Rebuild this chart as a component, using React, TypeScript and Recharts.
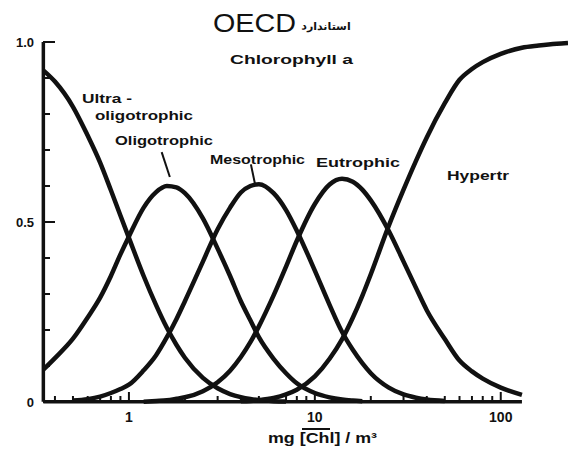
import { LineChart, Line, XAxis, YAxis, ReferenceLine } from "recharts";

// chlorophyll a, mg/m3 (log axis)
const CHL = [
  0.345, 0.4, 0.5, 0.6, 0.7, 0.8, 0.9, 1, 1.2, 1.4, 1.6, 1.8, 2, 2.5, 3, 3.5, 4, 4.5, 5, 6, 7, 8,
  10, 12, 14, 16, 18, 20, 25, 30, 35, 40, 50, 60, 70, 80, 100, 130, 160, 200, 230,
];

// probability of each trophic class
const ULTRA = [
  0.922, 0.89, 0.82, 0.74, 0.665, 0.588, 0.518, 0.456, 0.35, 0.269, 0.206, 0.159, 0.123, 0.067,
  0.038, 0.022, 0.0135, 0.0085, 0.0054, 0.0024, 0.0011, null, null, null, null, null, null, null,
  null, null, null, null, null, null, null, null, null, null, null, null, null,
];
const OLIGO = [
  0.089, 0.122, 0.176, 0.235, 0.29, 0.35, 0.41, 0.46, 0.54, 0.583, 0.6, 0.596, 0.58, 0.51, 0.426,
  0.35, 0.28, 0.227, 0.18, 0.12, 0.08, 0.052, 0.025, 0.013, 0.007, 0.004, 0.002, null, null, null,
  null, null, null, null, null, null, null, null, null, null, null,
];
const MESO = [
  null, null, 0.004, 0.008, 0.015, 0.025, 0.036, 0.048, 0.088, 0.13, 0.18, 0.23, 0.28, 0.39, 0.48,
  0.54, 0.582, 0.6, 0.605, 0.58, 0.533, 0.476, 0.365, 0.27, 0.195, 0.145, 0.108, 0.08, 0.04, 0.021,
  0.012, 0.007, 0.003, null, null, null, null, null, null, null, null,
];
const EUTRO = [
  null, null, null, null, null, null, null, null, 0.001, 0.003, 0.005, 0.009, 0.013, 0.03, 0.055,
  0.087, 0.125, 0.166, 0.21, 0.296, 0.376, 0.448, 0.55, 0.604, 0.62, 0.612, 0.59, 0.56, 0.475, 0.39,
  0.317, 0.255, 0.175, 0.115, 0.085, 0.065, 0.04, 0.02, null, null, null,
];
const HYPER = [
  null, null, null, null, null, null, null, null, null, null, null, null, null, null, null, null,
  0.002, 0.003, 0.005, 0.011, 0.021, 0.034, 0.071, 0.12, 0.174, 0.234, 0.295, 0.355, 0.49, 0.59,
  0.67, 0.735, 0.83, 0.895, 0.925, 0.944, 0.967, 0.984, 0.99, 0.995, 0.997,
];

const X_TICKS = [
  0.4, 0.5, 0.6, 0.7, 0.8, 0.9, 1, 2, 3, 4, 5, 6, 7, 8, 9, 10, 20, 30, 40, 50, 60, 70, 80, 90, 100,
];
const X_LABELS: Record<number, string> = { 1: "1", 10: "10", 100: "100" };
const Y_TICKS = [0, 0.1, 0.2, 0.3, 0.4, 0.5, 0.6, 0.7, 0.8, 0.9, 1];
const Y_LABELS: Record<number, string> = { 0: "0", 0.5: "0.5", 1: "1.0" };

const data = CHL.map((chl, i) => ({
  chl,
  ultra: ULTRA[i],
  oligo: OLIGO[i],
  meso: MESO[i],
  eutro: EUTRO[i],
  hyper: HYPER[i],
}));

const FONT = "'Liberation Sans', Arial, sans-serif";
const INK = "#111";

function XTick(props: any) {
  const { x, y, payload } = props;
  const label = X_LABELS[payload.value];
  return (
    <g>
      <line x1={x} x2={x} y1={y} y2={y - (label ? 10 : 6)} stroke={INK} strokeWidth={2} />
      {label && (
        <text x={x} y={y + 20} textAnchor="middle" fontFamily={FONT} fontWeight={700} fontSize={14} fill={INK}>
          {label}
        </text>
      )}
    </g>
  );
}

function YTick(props: any) {
  const { x, y, payload } = props;
  const label = Y_LABELS[payload.value];
  return (
    <g>
      <line x1={x} x2={x + (label ? 12 : 7)} y1={y} y2={y} stroke={INK} strokeWidth={2} />
      {label && (
        <text x={x - 9} y={y + 5} textAnchor="end" fontFamily={FONT} fontWeight={700} fontSize={13} fill={INK}>
          {label}
        </text>
      )}
    </g>
  );
}

const series = ["ultra", "oligo", "meso", "eutro", "hyper"];

export default function App() {
  return (
    <div style={{ position: "absolute", left: 0, top: 0, width: 570, height: 460, background: "#fff" }}>
      <LineChart width={570} height={460} data={data} margin={{ top: 42, right: 2, left: 0, bottom: 0 }}>
        <XAxis
          dataKey="chl"
          type="number"
          scale="log"
          domain={[0.345, 230]}
          allowDataOverflow
          ticks={X_TICKS}
          interval={0}
          axisLine={false}
          tickLine={false}
          tickSize={0}
          tickMargin={0}
          height={58}
          tick={<XTick />}
        />
        <YAxis
          type="number"
          domain={[0, 1]}
          ticks={Y_TICKS}
          interval={0}
          width={43}
          axisLine={false}
          tickLine={false}
          tickSize={0}
          tickMargin={0}
          tick={<YTick />}
        />
        {/* axis lines; the x axis stops a little past 100 */}
        <ReferenceLine
          segment={[{ x: 0.3465, y: 0.001 }, { x: 130, y: 0.001 }]}
          stroke={INK}
          strokeWidth={3.5}
          ifOverflow="visible"
        />
        <ReferenceLine
          segment={[{ x: 0.3465, y: 0.001 }, { x: 0.3465, y: 1 }]}
          stroke={INK}
          strokeWidth={3.5}
          ifOverflow="visible"
        />
        {/* leader lines from the labels to the peaks */}
        <ReferenceLine
          segment={[{ x: 1.5, y: 0.694 }, { x: 1.66, y: 0.625 }]}
          stroke={INK}
          strokeWidth={2}
        />
        <ReferenceLine
          segment={[{ x: 4.53, y: 0.66 }, { x: 4.76, y: 0.607 }]}
          stroke={INK}
          strokeWidth={2}
        />
        {series.map((key) => (
          <Line
            key={key}
            dataKey={key}
            type="monotone"
            stroke={INK}
            strokeWidth={4.5}
            dot={false}
            activeDot={false}
            isAnimationActive={false}
          />
        ))}
      </LineChart>
      <svg
        width={570}
        height={460}
        style={{ position: "absolute", left: 0, top: 0, pointerEvents: "none" }}
        fontFamily={FONT}
        fill={INK}
      >
        <text x={213} y={32} fontSize={25} textLength={83} lengthAdjust="spacingAndGlyphs">
          OECD
        </text>
        <text x={326} y={30} fontSize={11} fontWeight={700} textAnchor="middle" fontFamily="'DejaVu Sans', sans-serif">
          استاندارد
        </text>
        <text x={230} y={64} fontSize={13} fontWeight={700} textLength={123} lengthAdjust="spacingAndGlyphs">
          Chlorophyll  a
        </text>
        <text x={82} y={103} fontSize={13} fontWeight={700} textLength={50} lengthAdjust="spacingAndGlyphs">
          Ultra -
        </text>
        <text x={95} y={120} fontSize={13} fontWeight={700} textLength={98} lengthAdjust="spacingAndGlyphs">
          oligotrophic
        </text>
        <text x={115} y={145} fontSize={13} fontWeight={700} textLength={98} lengthAdjust="spacingAndGlyphs">
          Oligotrophic
        </text>
        <text x={210} y={164} fontSize={13} fontWeight={700} textLength={95} lengthAdjust="spacingAndGlyphs">
          Mesotrophic
        </text>
        <text x={316} y={167} fontSize={13} fontWeight={700} textLength={84} lengthAdjust="spacingAndGlyphs">
          Eutrophic
        </text>
        <text x={447} y={180} fontSize={13} fontWeight={700} textLength={62} lengthAdjust="spacingAndGlyphs">
          Hypertr
        </text>
        <text x={268} y={443} fontSize={14} fontWeight={700} textLength={109} lengthAdjust="spacingAndGlyphs">
          mg [Chl] / m³
        </text>
        <line x1={302} x2={330} y1={429} y2={429} stroke={INK} strokeWidth={2} />
      </svg>
    </div>
  );
}
